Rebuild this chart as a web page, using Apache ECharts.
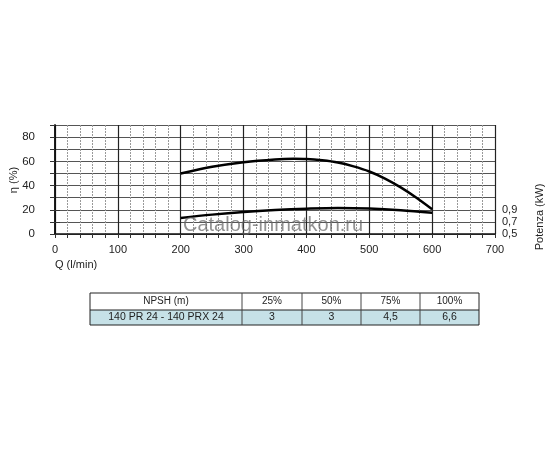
<!DOCTYPE html>
<html><head><meta charset="utf-8">
<script src="https://cdn.jsdelivr.net/npm/echarts@6/dist/echarts.min.js"></script>
<style>html,body{margin:0;padding:0;background:#fff}#c{width:550px;height:450px}</style>
</head><body><div id="c"></div>
<script>
// Data
var flowQ = [200, 250, 300, 350, 380, 400, 425, 450, 475, 500, 525, 550, 575, 600];
var efficiency = [50, 55.5, 59.3, 61.6, 62.1, 61.9, 60.8, 59, 55.8, 51.6, 45.8, 38.5, 30, 20.5];
var powerQ = [200, 250, 300, 350, 400, 450, 500, 550, 600];
var powerKW = [0.765, 0.82, 0.864, 0.896, 0.918, 0.93, 0.921, 0.893, 0.849];
var xTicks = [0, 100, 200, 300, 400, 500, 600, 700];
var yTicks = [0, 20, 40, 60, 80];
var kwTicks = [0.5, 0.7, 0.9];
var tableHeader = ['NPSH (m)', '25%', '50%', '75%', '100%'];
var tableRow = ['140 PR 24 - 140 PRX 24', '3', '3', '4,5', '6,6'];

var FONT = 'Liberation Sans';
var chart = echarts.init(document.getElementById('c'));

// table graphic
var colX = [90, 242, 302, 361, 420, 479];
var rowY = [293, 310, 325];
var g = [];
g.push({type:'rect', shape:{x:colX[0], y:rowY[1], width:colX[5]-colX[0], height:rowY[2]-rowY[1]}, style:{fill:'#c6e1e7'}});
g.push({type:'rect', shape:{x:colX[0], y:rowY[0], width:colX[5]-colX[0], height:rowY[2]-rowY[0]}, style:{fill:'none', stroke:'#222', lineWidth:1}});
g.push({type:'line', shape:{x1:colX[0], y1:rowY[1], x2:colX[5], y2:rowY[1]}, style:{stroke:'#222', lineWidth:1}});
for (var i = 1; i < 5; i++) {
  g.push({type:'line', shape:{x1:colX[i], y1:rowY[0], x2:colX[i], y2:rowY[2]}, style:{stroke:'#444', lineWidth:1}});
}
for (var i = 0; i < 5; i++) {
  var cx = (colX[i] + colX[i+1]) / 2;
  g.push({type:'text', x:cx, y:(rowY[0]+rowY[1])/2, style:{text:tableHeader[i], fill:'#222', font:'10px "'+FONT+'"', align:'center', verticalAlign:'middle'}});
  g.push({type:'text', x:cx, y:(rowY[1]+rowY[2])/2, style:{text:tableRow[i], fill:'#222', font:'10.5px "'+FONT+'"', align:'center', verticalAlign:'middle'}});
}
// axis names
g.push({type:'text', x:55, y:265, style:{text:'Q (l/min)', fill:'#222', font:'11px "'+FONT+'"', align:'left', verticalAlign:'middle'}});
g.push({type:'text', x:14, y:180, rotation:Math.PI/2, style:{text:'η (%)', fill:'#222', font:'11px "'+FONT+'"', align:'center', verticalAlign:'middle'}});
g.push({type:'text', x:540, y:217, rotation:Math.PI/2, style:{text:'Potenza (kW)', fill:'#222', font:'11px "'+FONT+'"', align:'center', verticalAlign:'middle'}});
// watermark
g.push({type:'text', x:183, y:225, z:100, style:{text:'Catalog-inmatkon.ru', fill:'rgba(100,100,100,0.7)', font:'20px "'+FONT+'"', align:'left', verticalAlign:'middle'}});

var option = {
  animation:false,
  backgroundColor:'#fff',
  grid:{left:55, top:125, width:440, height:109, containLabel:false},
  xAxis:[{
    type:'value', min:0, max:700, interval:20,
    axisLine:{show:true, lineStyle:{color:'#111', width:1.5}},
    axisTick:{show:true, inside:false, length:4, lineStyle:{color:'#333'}},
    axisLabel:{margin:10, color:'#222', fontFamily:FONT, fontSize:11, customValues:xTicks},
    splitLine:{show:true, lineStyle:{color:'#999', width:1, type:[2,1]}}
  },{
    type:'value', min:0, max:700, interval:100, position:'bottom',
    axisLine:{show:false}, axisTick:{show:false}, axisLabel:{show:false},
    splitLine:{show:true, lineStyle:{color:'#222', width:1.2}}
  }],
  yAxis:[{
    type:'value', min:0, max:90, interval:10,
    axisLine:{show:true, lineStyle:{color:'#111', width:1.5}},
    axisTick:{show:true, length:5, lineStyle:{color:'#333'}},
    axisLabel:{margin:20, color:'#222', fontFamily:FONT, fontSize:11.5, customValues:yTicks},
    splitLine:{show:true, lineStyle:{color:'#555', width:1}}
  },{
    type:'value', min:0.5, max:2.3, interval:0.2, position:'right',
    axisLine:{show:true, lineStyle:{color:'#111', width:1.5}},
    axisTick:{show:true, length:5, customValues:kwTicks, lineStyle:{color:'#333'}},
    axisLabel:{margin:7, color:'#222', fontFamily:FONT, fontSize:11, customValues:kwTicks,
      formatter:function(v){return v.toFixed(1).replace('.', ',');}},
    splitLine:{show:false}
  }],
  graphic:g,
  series:[{
    type:'line', xAxisIndex:0, yAxisIndex:0, smooth:0.3, symbol:'none',
    data:flowQ.map(function(q,i){return [q, efficiency[i]];}),
    lineStyle:{color:'#000', width:2.5}
  },{
    type:'line', xAxisIndex:0, yAxisIndex:1, smooth:0.35, symbol:'none',
    data:powerQ.map(function(q,i){return [q, powerKW[i]];}),
    lineStyle:{color:'#000', width:2.5}
  }]
};
chart.setOption(option);
</script></body></html>
